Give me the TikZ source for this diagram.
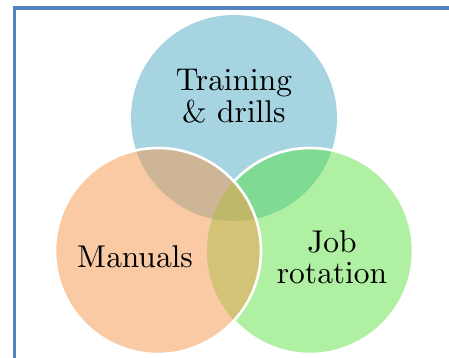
\documentclass[tikz,border=0pt]{standalone}
\usepackage{tikz}
\font\labfont=cmr10 at 31.5pt
\newcommand{\twolines}[2]{\vtop{\baselineskip=31.5pt\lineskiplimit=-100pt\halign{\hfil##\hfil\cr #1\cr #2\cr}}}
\definecolor{cblue}{HTML}{A6D4E1}
\definecolor{corange}{HTML}{F9CAA3}
\definecolor{cgreen}{HTML}{B0F0A2}
\definecolor{cbo}{HTML}{CDB595}
\definecolor{cbg}{HTML}{7FDA93}
\definecolor{cog}{HTML}{D2C376}
\definecolor{cbog}{HTML}{BFB86B}
\definecolor{frame}{HTML}{5383C0}
\tikzset{
  lbl/.style={inner sep=0pt, font=\labfont, anchor=base},
  rim/.style={draw=white, line width=2.6pt}
}
\begin{document}
\begin{tikzpicture}[x=1pt,y=-1pt]
\useasboundingbox (0,0) rectangle (449,358);
\def\B{(234,118) circle[radius=103]}
\def\O{(158,251) circle[radius=103]}
\def\G{(310,251) circle[radius=103]}
\fill[white] (0,0) rectangle (449,358);
\draw[frame, line width=3.5pt] (14.5,460) -- (14.5,8) -- (560,8);
\fill[cblue] \B;
\fill[corange] \O;
\fill[cgreen] \G;
\begin{scope}\clip \B; \fill[cbo] \O; \end{scope}
\begin{scope}\clip \B; \fill[cbg] \G; \end{scope}
\begin{scope}\clip \O; \fill[cog] \G; \end{scope}
\begin{scope}\clip \B; \clip \O; \fill[cbog] \G; \end{scope}
\draw[rim] \O;
\begin{scope}[even odd rule]
  \clip (0,0) rectangle (449,358) \O;
  \draw[rim] \G;
\end{scope}
\node[lbl] (train) at (234,91) {\twolines{Training}{\& drills}};
\node[lbl] (man) at (135,267) {Manuals};
\node[lbl] (job) at (332,252) {\twolines{Job}{rotation}};
\end{tikzpicture}
\end{document}
